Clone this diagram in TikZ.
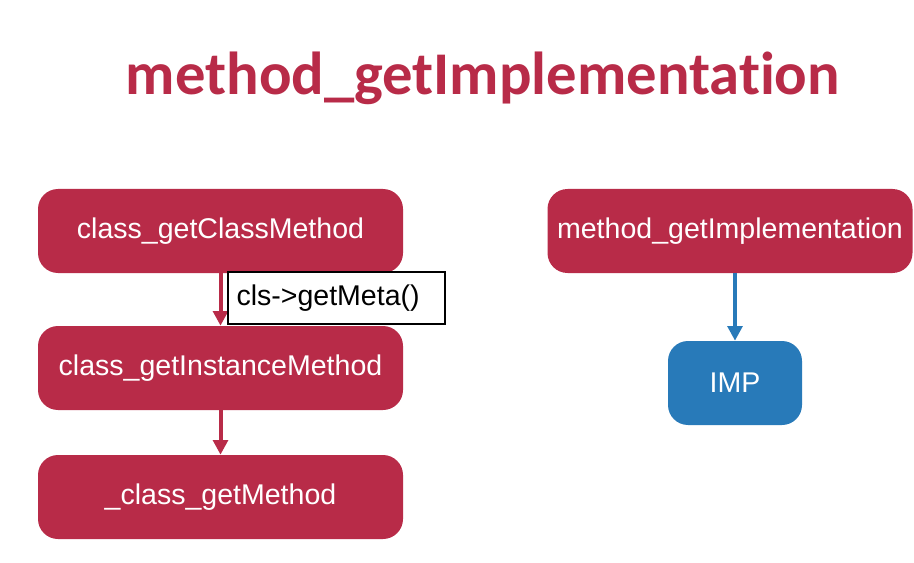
\documentclass[tikz,border=0pt]{standalone}
\usepackage{fontspec}
\setmainfont{Liberation Sans}
\newfontfamily\titlefont[Ligatures=NoCommon]{Carlito}
\usepackage{tikz}
\usetikzlibrary{arrows.meta,positioning}
\definecolor{crimson}{RGB}{184,43,72}
\definecolor{impblue}{RGB}{40,122,185}

\begin{document}
\begin{tikzpicture}[
  x=0.75pt, y=-0.75pt,
  every node/.style={font=\fontsize{21.4}{25}\selectfont},
  fbox/.style={fill=crimson, text=white, rounded corners=15pt,
    minimum width=273.75pt, minimum height=63pt, inner sep=0pt},
  impbox/.style={fill=impblue, text=white, rounded corners=15pt,
    minimum width=100.5pt, minimum height=63pt, inner sep=0pt},
  lbl/.style={draw=black, fill=white, line width=0.9pt,
    text width=150pt, align=left, inner xsep=6.4pt,
    minimum height=39pt, inner ysep=0pt},
  link/.style={line width=3pt, -{Triangle[length=11pt,width=11pt]}}
]
\useasboundingbox (0,0) rectangle (914,563);

\node[text=crimson, font=\titlefont\bfseries\fontsize{45.5}{50}\selectfont] (title) at (483,78) {method\_getImplementation};

% left chain
\node[fbox] (classm) at (220.5,231) {class\_getClassMethod};
\node[fbox] (instm) at (220.5,368) {class\_getInstanceMethod};
\node[fbox] (getm) at (220.5,497) {\_class\_getMethod};

% right chain
\node[fbox] (impl) at (730,231) {method\_getImplementation};
\node[impbox] (imp) at (735,383) {IMP};

\draw[link, crimson] (classm) -- (instm);
\draw[link, crimson] (instm) -- (getm);
\draw[link, impblue] (impl.south -| imp.north) -- (imp);

\node[lbl] (meta) at (336.5,298) {cls->getMeta()};
\end{tikzpicture}
\end{document}
